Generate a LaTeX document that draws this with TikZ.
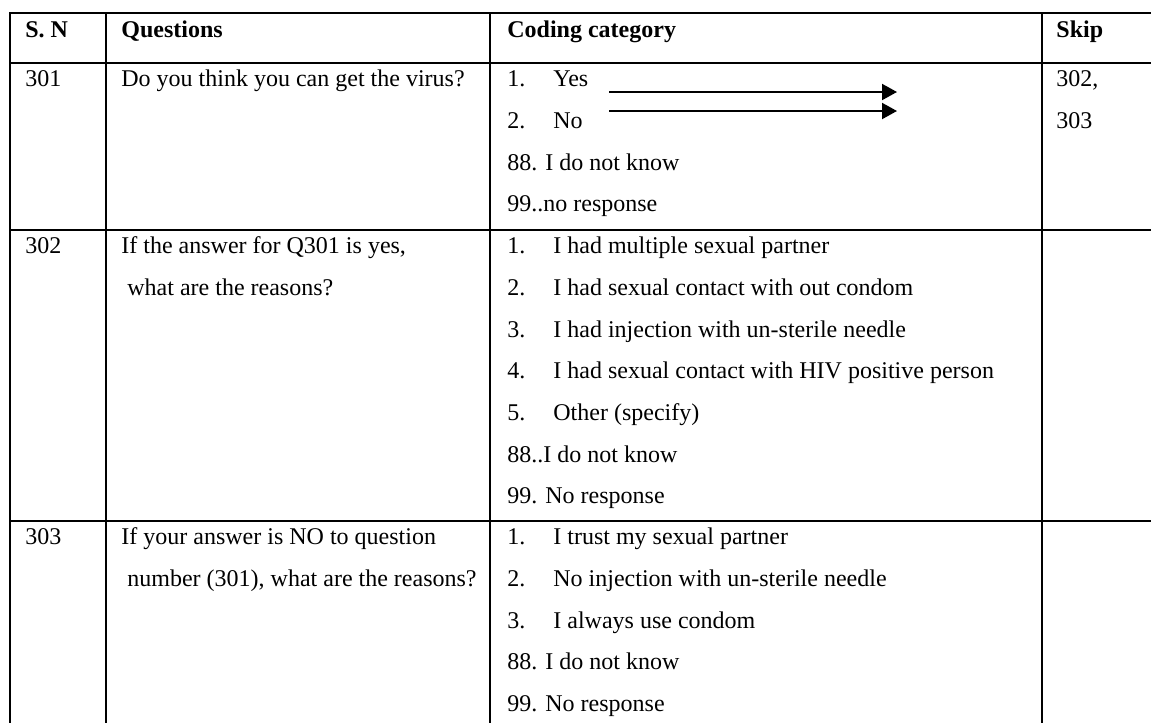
\documentclass[tikz,border=0pt]{standalone}
\usepackage{fontspec}
\setmainfont{Liberation Serif}
\usetikzlibrary{arrows.meta}

\tikzset{txt/.style={anchor=base west,inner sep=0pt},
  rule/.style={line width=1.3pt},
  arr/.style={line width=1pt,-{Triangle[length=7.5pt,width=8pt]}}}

\begin{document}
\begin{tikzpicture}[x=0.5pt,y=-0.5pt]
\fontsize{12}{14}\selectfont
\useasboundingbox (0,0) rectangle (1151,723);

% table rules
\draw[rule] (9,13) -- (1151,13);
\draw[rule] (9,63) -- (1151,63);
\draw[rule] (9,230) -- (1151,230);
\draw[rule] (9,521) -- (1151,521);
\draw[rule] (10,13) -- (10,723);
\draw[rule] (106,13) -- (106,723);
\draw[rule] (490,13) -- (490,723);
\draw[rule] (1042,13) -- (1042,723);

% header
\node[txt] (sn) at (25,37) {\textbf{S. N}};
\node[txt] (qs) at (121,37) {\textbf{Questions}};
\node[txt] (cc) at (507,37) {\textbf{Coding category}};
\node[txt] (sk) at (1056,37) {\textbf{Skip}};

% 301
\node[txt] (n1) at (25,86) {301};
\node[txt] (q1) at (121,86) {Do you think you can get the virus?};
\node[txt] (a11) at (507,86) {1.};
\node[txt] (b11) at (553,86) {Yes};
\node[txt] (a12) at (507,128) {2.};
\node[txt] (b12) at (553,128) {No};
\node[txt] (a13) at (507,170) {88. I do not know};
\node[txt] (a14) at (507,211) {99..no response};
\node[txt] (s1) at (1056,86) {302,};
\node[txt] (s2) at (1056,128) {303};

\coordinate (y0) at (609,92);
\coordinate (y1) at (897,92);
\coordinate (n0) at (609,111);
\coordinate (n1e) at (897,111);
\draw[arr] (y0) -- (y1);
\draw[arr] (n0) -- (n1e);

% 302
\node[txt] (n2) at (25,253) {302};
\node[txt] (q21) at (121,253) {If the answer for Q301 is yes,};
\node[txt] (q22) at (127,295) {what are the reasons?};
\node[txt] (a21) at (507,253) {1.};
\node[txt] (b21) at (553,253) {I had multiple sexual partner};
\node[txt] (a22) at (507,295) {2.};
\node[txt] (b22) at (553,295) {I had sexual contact with out condom};
\node[txt] (a23) at (507,337) {3.};
\node[txt] (b23) at (553,337) {I had injection with un-sterile needle};
\node[txt] (a24) at (507,378) {4.};
\node[txt] (b24) at (553,378) {I had sexual contact with HIV positive person};
\node[txt] (a25) at (507,420) {5.};
\node[txt] (b25) at (553,420) {Other (specify)};
\node[txt] (a26) at (507,462) {88..I do not know};
\node[txt] (a27) at (507,503) {99. No response};

% 303
\node[txt] (n3) at (25,544) {303};
\node[txt] (q31) at (121,544) {If your answer is NO to question};
\node[txt] (q32) at (127,586) {number (301), what are the reasons?};
\node[txt] (a31) at (507,544) {1.};
\node[txt] (b31) at (553,544) {I trust my sexual partner};
\node[txt] (a32) at (507,586) {2.};
\node[txt] (b32) at (553,586) {No injection with un-sterile needle};
\node[txt] (a33) at (507,628) {3.};
\node[txt] (b33) at (553,628) {I always use condom};
\node[txt] (a34) at (507,669) {88. I do not know};
\node[txt] (a35) at (507,711) {99. No response};
\end{tikzpicture}
\end{document}
